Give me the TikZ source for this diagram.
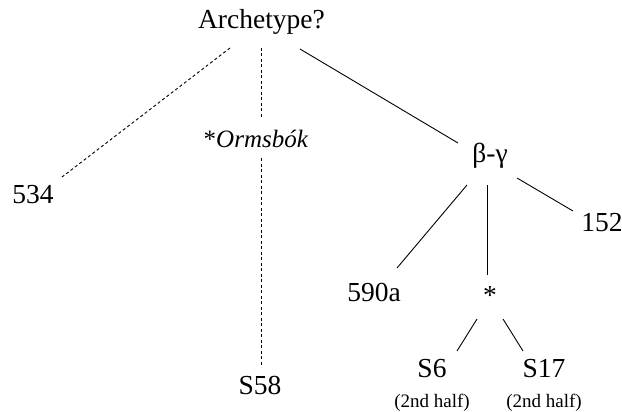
\documentclass[tikz,border=0pt]{standalone}
\usepackage{fontspec}
\setmainfont{Liberation Serif}
\usetikzlibrary{calc}
\begin{document}
\begin{tikzpicture}[x=1pt,y=-1pt,
  lbl/.style={anchor=base,inner sep=0pt,font=\fontsize{27.5}{30}\selectfont},
  orms/.style={anchor=base,inner sep=0pt,font=\fontsize{25}{28}\selectfont},
  small/.style={anchor=base,inner sep=0pt,font=\fontsize{19}{21}\selectfont},
  link/.style={line width=0.9pt},
  dlink/.style={line width=0.9pt,dash pattern=on 3pt off 2.5pt}]
\useasboundingbox (0,0) rectangle (622,412);
\node[lbl] (arch) at (261.5,29) {Archetype?};
\node[orms] (orms) at (256,147) {*\textit{Ormsbók}};
\node[lbl] (n534) at (33,203) {534};
\node[lbl] (s58) at (260,394) {S58};
\node[lbl] (beta) at (490,162) {β-γ};
\node[lbl] (n152) at (602,231) {152};
\node[lbl] (n590) at (374,301) {590a};
\node[lbl] (star) at (490,304) {*};
\node[lbl] (s6) at (432,377) {S6};
\node[lbl] (s17) at (544,377) {S17};
\node[small] (h6) at (432,407) {(2nd half)};
\node[small] (h17) at (544,407) {(2nd half)};
\draw[dlink] ($(arch.base)+(-31.5,19)$) -- ($(n534.base)+(29,-26)$);
\draw[dlink] ($(arch.base)+(-0.5,19)$) -- ($(orms.base)+(5,-30)$);
\draw[dlink] ($(orms.base)+(5,11)$) -- ($(s58.base)+(1,-27)$);
\draw[link] ($(arch.base)+(38.5,20)$) -- ($(beta.base)+(-32,-19)$);
\draw[link] ($(beta.base)+(-23,23)$) -- ($(n590.base)+(23,-33)$);
\draw[link] ($(beta.base)+(-3,23)$) -- ($(star.base)+(-3,-29)$);
\draw[link] ($(beta.base)+(27,16)$) -- ($(n152.base)+(-29,-20)$);
\draw[link] ($(star.base)+(-13,15)$) -- ($(s6.base)+(25,-26)$);
\draw[link] ($(star.base)+(13,15)$) -- ($(s17.base)+(-21,-26)$);
\end{tikzpicture}
\end{document}
